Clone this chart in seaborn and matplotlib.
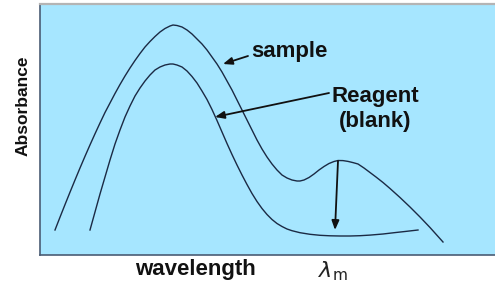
import matplotlib
matplotlib.use("Agg")
import matplotlib.pyplot as plt
import seaborn as sns
import pandas as pd

# Values (x = wavelength position, y = absorbance), arbitrary units
sample_x = [55, 60, 65, 70, 75, 80, 85, 90, 95, 100, 105, 110, 115, 120, 125, 130, 135, 140,
            145, 150, 155, 160, 165, 170, 173, 177, 182, 187, 192, 197, 202, 207, 212, 217,
            222, 227, 232, 237, 242, 247, 252, 257, 262, 267, 272, 277, 282, 287, 292, 297,
            300, 304, 309, 314, 319, 324, 329, 334, 338, 343, 348, 353, 358, 364, 370, 376,
            383, 390, 400, 410, 420, 430, 443]
sample_y = [25, 37.8, 50.4, 62.8, 75, 87, 98.7, 110.1, 121.2, 132, 142.5, 152, 161.5, 170.5,
            179, 187, 194.5, 201.5, 208, 213.5, 218.5, 223, 226.5, 229, 230, 229.5, 228, 225,
            221, 216, 211, 205, 198, 191, 183, 174, 165, 155, 145, 135, 125, 115, 106, 98, 91,
            85, 80, 77, 75, 74,
            74, 75, 77.5, 81, 85, 88.5, 91.5, 93.5, 94.5, 94.4, 93.6, 92.4, 91, 87, 82.5, 78,
            72.5, 66.5, 57.5, 48, 38, 27.5, 13]

blank_x = [90, 95, 100, 105, 110, 115, 120, 125, 130, 135, 140, 145, 150, 155, 160, 165, 170,
           173, 177, 182, 187, 192, 197, 202, 207, 212, 217, 222, 227, 232, 237, 242, 247, 252,
           257, 262, 267, 272, 277, 282, 287, 292, 300, 310, 320, 330, 340, 350, 360, 370,
           383, 395, 405, 418]
blank_y = [25, 43, 61, 78, 95, 111, 125, 138, 149, 159, 167, 174, 180, 185, 188, 190, 191,
           191, 190, 188, 184, 178.5, 172, 164, 155.5, 145.5, 134.5, 123, 111.5, 100.5, 90, 80,
           70.5, 61.5, 53.5, 46.5, 40.5, 35.5, 31.5, 28.5, 26, 24.3, 22.3, 20.7, 19.7, 19.2,
           19, 19, 19.3, 19.9, 21, 22.4, 23.5, 25]

x_label = "wavelength"
y_label = "Absorbance"

df = pd.concat([
    pd.DataFrame({"wavelength": sample_x, "absorbance": sample_y, "series": "sample"}),
    pd.DataFrame({"wavelength": blank_x, "absorbance": blank_y, "series": "blank"}),
])

W, H = 495, 293
fig = plt.figure(figsize=(W / 100, H / 100), dpi=100)
ax = fig.add_axes([40 / W, (H - 255) / H, (W - 40) / W, (255 - 4) / H])
bg = "#A6E6FF"
ax.set_facecolor(bg)
line_col = "#1B2A44"

sns.lineplot(data=df, x="wavelength", y="absorbance", units="series", estimator=None,
             sort=False, color=line_col, linewidth=1.0, ax=ax, legend=False)

ax.set_xlim(40, 495)
ax.set_ylim(0, 251)
ax.set_xticks([])
ax.set_yticks([])
ax.set_xlabel("")
ax.set_ylabel("")
for side in ["left", "bottom"]:
    ax.spines[side].set_color("#4A5C74")
    ax.spines[side].set_linewidth(1.2)
ax.spines["top"].set_color("#B4B4B4")
ax.spines["top"].set_linewidth(1.6)
ax.spines["right"].set_visible(False)

font = "Liberation Sans"
arrow_kw = dict(arrowstyle="-|>,head_length=0.55,head_width=0.22", color="#111111",
                lw=1.3, shrinkA=0, shrinkB=0)

# sample label and arrow
ax.text(251, 255 - 52, "sample", fontsize=16, fontweight="bold", family=font,
        ha="left", va="center", color="#111111")
ax.annotate("", xy=(223, 255 - 64), xytext=(248, 255 - 56), arrowprops=arrow_kw)

# reagent label and arrow
ax.text(375, 255 - 109, "Reagent\n(blank)", fontsize=16, fontweight="bold", family=font,
        ha="center", va="center", multialignment="center", linespacing=1.25, color="#111111")
ax.annotate("", xy=(215, 255 - 117), xytext=(329, 255 - 93), arrowprops=arrow_kw)

# lambda_m arrow
ax.annotate("", xy=(335, 255 - 230), xytext=(338, 255 - 161), arrowprops=arrow_kw)

# axis labels
fig.text(195 / W, 1 - 269 / H, x_label, fontsize=16, fontweight="bold", family=font,
         ha="center", va="center", color="#111111")
fig.text(23 / W, 1 - 106 / H, y_label, fontsize=12.5, fontweight="bold", family=font,
         ha="center", va="center", rotation=90, color="#111111")
fig.text(333 / W, 1 - 271 / H, r"$\lambda_{\mathrm{m}}$", fontsize=16,
         ha="center", va="center", color="#222222")

fig.savefig("out.png", dpi=100)
